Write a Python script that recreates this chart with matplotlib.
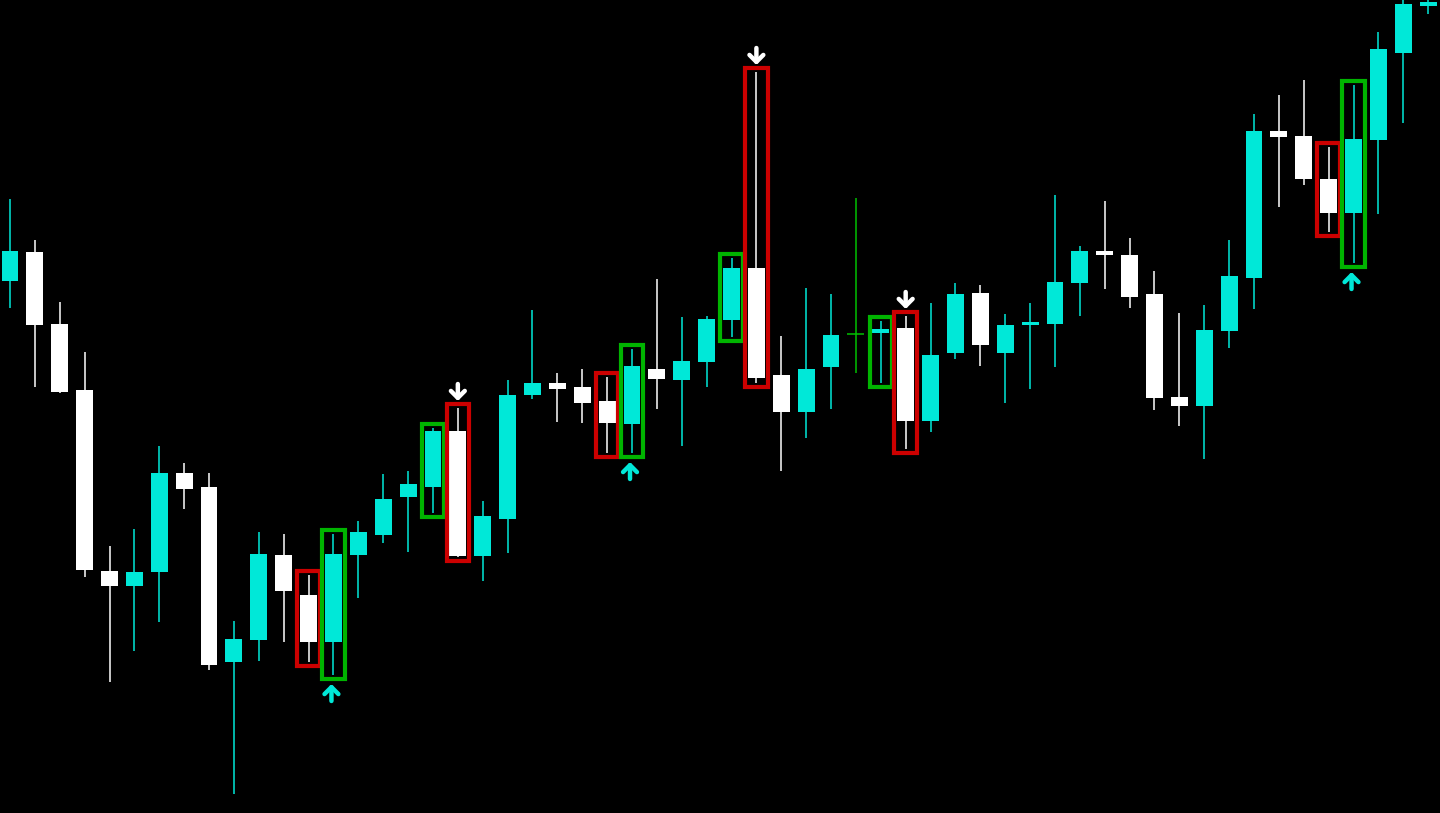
import matplotlib
matplotlib.use('Agg')
import matplotlib.pyplot as plt
from matplotlib.patches import Rectangle

# price values (arbitrary units, up = higher)
opens = [532, 561, 489, 423, 242, 227, 241, 340, 326, 151,
         173, 258, 218, 171, 258, 278, 316, 326, 382, 257,
         294, 418, 430, 426, 412, 389, 444, 433, 451, 493,
         545, 438, 401, 446, 479, 480, 485, 392, 460, 520,
         460, 488, 489, 530, 562, 558, 519, 416, 407, 482,
         535, 682, 677, 634, 600, 673, 760, 807]
highs = [614, 573, 511, 461, 267, 284, 367, 350, 340, 192,
         281, 279, 238, 279, 292, 339, 342, 385, 405, 312,
         433, 503, 440, 444, 436, 464, 534, 496, 497, 555,
         741, 477, 525, 519, 615, 492, 497, 510, 530, 528,
         499, 510, 618, 567, 612, 575, 542, 500, 508, 573,
         699, 718, 733, 666, 728, 781, 815, 815]
lows = [505, 426, 420, 236, 131, 162, 191, 304, 143, 19,
        152, 171, 151, 138, 215, 270, 261, 300, 256, 232,
        260, 414, 391, 390, 360, 360, 404, 367, 426, 476,
        430, 342, 375, 404, 440, 430, 364, 381, 454, 447,
        410, 424, 446, 497, 524, 505, 403, 387, 354, 465,
        504, 606, 628, 581, 550, 599, 690, 799]
closes = [562, 488, 421, 243, 227, 241, 340, 324, 148, 174,
          259, 222, 171, 259, 281, 314, 329, 382, 257, 297,
          418, 430, 424, 410, 390, 447, 434, 452, 494, 545,
          435, 401, 444, 478, 479, 484, 392, 458, 519, 468,
          488, 491, 531, 562, 558, 516, 415, 407, 483, 537,
          682, 676, 634, 600, 674, 764, 809, 811]

# engulfing signals: bar index of the engulfing candle, +1 bullish / -1 bearish
signal_bars = [13, 18, 25, 30, 36, 54]
signal_dirs = [1, -1, 1, -1, -1, 1]

up_color = '#00E8D8'
down_color = '#FFFFFF'
doji_color = '#00C000'
bull_box = '#00B400'
bear_box = '#CC0000'

step = 24.88
fig = plt.figure(figsize=(14.4, 8.13), dpi=100, facecolor='black')
ax = fig.add_axes([0, 0, 1, 1])
ax.set_facecolor('black')
ax.set_xlim(-10 / step, (1440 - 10) / step)
ax.set_ylim(0, 813)
ax.axis('off')

for i in range(len(opens)):
    o, h, l, c = opens[i], highs[i], lows[i], closes[i]
    if c > o:
        col = up_color
    elif c < o:
        col = down_color
    else:
        col = doji_color
    ax.vlines(i, l, h, color=col, linewidth=1.1, zorder=2)
    if c == o:
        ax.hlines(o, i - 0.34, i + 0.34, color=col, linewidth=1.1, zorder=3)
    else:
        ax.bar(i, c - o, bottom=o, width=0.68, color=col, linewidth=0, zorder=3)

pad = 4
arrow_style = dict(arrowstyle='->,head_length=0.5,head_width=0.5', lw=3.2,
                   shrinkA=0, shrinkB=0)
for idx, d in zip(signal_bars, signal_dirs):
    prev = idx - 1
    for j, col in ((prev, bear_box if d > 0 else bull_box),
                   (idx, bull_box if d > 0 else bear_box)):
        lo = lows[j] - pad
        hi = highs[j] + pad
        ax.add_patch(Rectangle((j - 0.45, lo), 0.9, hi - lo, fill=False,
                               edgecolor=col, linewidth=3.0, zorder=4))
    if d > 0:
        base = lows[idx] - pad - 4
        ax.annotate('', xy=(idx - 0.08, base - 1), xytext=(idx - 0.08, base - 18),
                    arrowprops=dict(color=up_color, **arrow_style))
    else:
        top = highs[idx] + pad + 3
        ax.annotate('', xy=(idx, top), xytext=(idx, top + 17),
                    arrowprops=dict(color=down_color, **arrow_style))

fig.savefig('out.png', dpi=100, facecolor='black')
